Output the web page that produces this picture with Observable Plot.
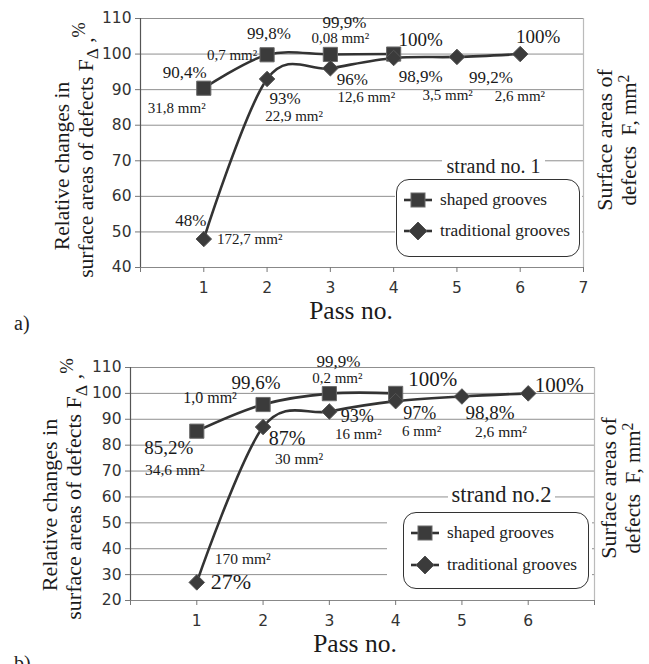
<!DOCTYPE html>
<html>
<head>
<meta charset="utf-8">
<script src="https://cdn.jsdelivr.net/npm/d3@7"></script>
<script src="https://cdn.jsdelivr.net/npm/@observablehq/plot@0.6"></script>
<style>
  body { margin: 0; background: #fff; }
  #root { position: relative; width: 649px; height: 664px; overflow: hidden; font-family: "Liberation Serif", serif; color: #222; }
  .panel { position: absolute; left: 0; width: 649px; }
  .panel svg { display: block; overflow: visible; }
  .legend { position: absolute; background: #fff; border: 1.5px solid #333; border-radius: 13px; box-sizing: border-box; }
  .legend .row { position: absolute; left: 6px; display: flex; align-items: center; white-space: nowrap; font-size: 17.3px; }
  .legend .row svg { margin-right: 7px; }
  .ltitle { position: absolute; background: #fff; text-align: center; white-space: nowrap; }
  .cover { position: absolute; background: #fff; }
  .tag { position: absolute; left: 14px; font-size: 20px; }
</style>
</head>
<body>
<div id="root"></div>
<script>
// ---------------- data ----------------
const passes = [1, 2, 3, 4, 5, 6];
const seriesNames = ["shaped grooves", "traditional grooves"];

// strand no. 1 (panel a)
const shapedA = [90.4, 99.8, 99.9, 100];
const shapedA_pct = ["90,4%", "99,8%", "99,9%", "100%"];
const shapedA_area = ["31,8 mm²", "0,7 mm²", "0,08 mm²", null];
const tradA = [48, 93, 96, 98.9, 99.2, 100];
const tradA_pct = ["48%", "93%", "96%", "98,9%", "99,2%", "100%"];
const tradA_area = ["172,7 mm²", "22,9 mm²", "12,6 mm²", "3,5 mm²", "2,6 mm²", null];

// strand no. 2 (panel b)
const shapedB = [85.4, 95.7, 99.9, 100];
const shapedB_pct = ["85,2%", "99,6%", "99,9%", "100%"];
const shapedB_area = ["34,6 mm²", "1,0 mm²", "0,2 mm²", null];
const tradB = [27, 87, 93, 97, 98.8, 100];
const tradB_pct = ["27%", "87%", "93%", "97%", "98,8%", "100%"];
const tradB_area = ["170 mm²", "30 mm²", "16 mm²", "6 mm²", "2,6 mm²", null];

const xTicks = [0, 1, 2, 3, 4, 5, 6, 7];
const xTickLabelsA = ["", "1", "2", "3", "4", "5", "6", "7"];
const xTickLabelsB = ["", "1", "2", "3", "4", "5", "6", ""];
const yTicksA = [40, 50, 60, 70, 80, 90, 100, 110];
const yTicksB = [20, 30, 40, 50, 60, 70, 80, 90, 100, 110];

// ---------------- label layout (offsets in px, font size) ----------------
const layoutA = {
  shapedPct:  [[-19, -16, 17], [2, -21, 17], [14, -32, 17], [27, -14, 19]],
  shapedArea: [[-27, 20, 15], [-35, 0, 15], [10, -16, 15], null],
  tradPct:    [[-13, -18, 17], [18, 20, 17], [22, 11, 17], [27, 19, 17], [34, 21, 17], [18, -17, 19]],
  tradArea:   [[46, 0, 15], [27, 37, 15], [36, 29, 15], [54, 37, 15], [63, 39, 15], null]
};
const layoutB = {
  shapedPct:  [[-28, 17, 19], [-7, -22, 19], [9, -32, 17], [37, -14, 21]],
  shapedArea: [[-22, 39, 15.5], [-53, -7, 16], [8, -15, 15], null],
  tradPct:    [[34, 0, 22], [24, 12, 20], [28, 5, 18], [24, 12, 18], [28, 16, 19], [31, -8, 21]],
  tradArea:   [[46, -23, 15.5], [36, 32, 15.5], [29, 23, 15], [26, 30, 15], [39, 36, 15.5], null]
};

const SERIF = "Liberation Serif";
const INK = "#333";
const MARK = "#3b3b3b";

function rows(vals) { return vals.map((v, i) => ({pass: passes[i], value: v})); }

function labelMarks(vals, texts, lay) {
  const marks = [];
  vals.forEach((v, i) => {
    if (!texts[i] || !lay[i]) return;
    const [dx, dy, fs] = lay[i];
    marks.push(Plot.text([{pass: passes[i], value: v, t: texts[i]}], {
      x: "pass", y: "value", text: "t", dx, dy,
      fontSize: fs, fontFamily: SERIF, fill: "#1a1a1a"
    }));
  });
  return marks;
}

function panel(cfg) {
  const s = rows(cfg.shaped), t = rows(cfg.trad);
  const L = cfg.layout;
  const plot = Plot.plot({
    width: 649, height: cfg.height,
    marginLeft: cfg.ml, marginRight: cfg.mr, marginTop: cfg.mt, marginBottom: cfg.mb,
    style: {fontFamily: "DejaVu Sans", fontSize: "15.5px", color: INK, background: "transparent"},
    x: {domain: [0, 7]},
    y: {domain: cfg.yDomain},
    marks: [
      Plot.ruleY(cfg.yTicks.slice(1), {stroke: "#8f8f8f", strokeWidth: 1}),
      Plot.ruleY([cfg.yDomain[0]], {stroke: "#888", strokeWidth: 1.2}),
      Plot.ruleX([0], {stroke: "#555", strokeWidth: 1.2}),
      Plot.ruleX([7], {stroke: "#bbb", strokeWidth: 1.2}),
      Plot.axisX({ticks: xTicks, tickFormat: (d) => cfg.xLabels[xTicks.indexOf(d)], tickSize: 5, tickPadding: 9,
        stroke: "#777", fill: INK, fontFamily: "DejaVu Sans", fontSize: 15.5, label: null}),
      Plot.axisY({ticks: cfg.yTicks, tickSize: 5, tickPadding: 4, stroke: "#777", fill: INK,
        fontFamily: "DejaVu Sans", fontSize: 15.5, label: null}),
      ...labelMarks(cfg.shaped, cfg.shapedPct, L.shapedPct),
      ...labelMarks(cfg.shaped, cfg.shapedArea, L.shapedArea),
      ...labelMarks(cfg.trad, cfg.tradPct, L.tradPct),
      ...labelMarks(cfg.trad, cfg.tradArea, L.tradArea),
      Plot.line(s, {x: "pass", y: "value", curve: "cardinal", stroke: INK, strokeWidth: 2.6}),
      Plot.line(t, {x: "pass", y: "value", curve: "cardinal", stroke: INK, strokeWidth: 2.6}),
      Plot.dot(s, {x: "pass", y: "value", symbol: "square", r: 8, fill: MARK, stroke: "#6a6a6a", strokeWidth: 1}),
      Plot.dot(t, {x: "pass", y: "value", symbol: "diamond2", r: 7, fill: MARK, stroke: "#555", strokeWidth: 1})
    ]
  });

  const svg = d3.select(plot);
  // left axis title (two lines)
  const lt = cfg.leftTitle;
  svg.append("text").attr("transform", `translate(${lt.x1},${lt.cy1}) rotate(-90)`)
    .attr("text-anchor", "middle").attr("font-family", SERIF).attr("font-size", lt.fs)
    .attr("fill", "#1a1a1a").text("Relative changes in");
  const l2 = svg.append("text").attr("transform", `translate(${lt.x2},${lt.cy2}) rotate(-90)`)
    .attr("text-anchor", "middle").attr("font-family", SERIF).attr("font-size", lt.fs)
    .attr("fill", "#1a1a1a");
  l2.append("tspan").text("surface areas of defects F");
  l2.append("tspan").attr("dy", lt.fs * 0.25).attr("font-size", lt.fs * 0.8).text("Δ");
  l2.append("tspan").attr("dy", -lt.fs * 0.25).text(" ,");
  l2.append("tspan").attr("dy", -lt.fs * 0.35).attr("font-size", lt.fs * 0.85).text("%");
  // right axis title
  const rt = cfg.rightTitle;
  svg.append("text").attr("transform", `translate(${rt.x1},${rt.cy}) rotate(-90)`)
    .attr("text-anchor", "middle").attr("font-family", SERIF).attr("font-size", rt.fs1)
    .attr("fill", "#1a1a1a").text("Surface areas of");
  const r2 = svg.append("text").attr("transform", `translate(${rt.x2},${rt.cy}) rotate(-90)`)
    .attr("text-anchor", "middle").attr("font-family", SERIF).attr("font-size", rt.fs2)
    .attr("fill", "#1a1a1a").attr("xml:space", "preserve");
  r2.append("tspan").text("defects  F, mm");
  r2.append("tspan").attr("dy", -rt.fs2 * 0.35).attr("font-size", rt.fs2 * 0.75).text("2");
  // x axis title
  svg.append("text").attr("x", cfg.xTitle.x).attr("y", cfg.xTitle.y).attr("text-anchor", "middle")
    .attr("font-family", SERIF).attr("font-size", 25.5).attr("fill", "#1a1a1a").text("Pass no.");

  const div = document.createElement("div");
  div.className = "panel";
  div.style.top = cfg.top + "px";
  div.style.height = cfg.height + "px";
  div.appendChild(plot);

  // legend
  const lg = cfg.legend;
  const cover = document.createElement("div");
  cover.className = "cover";
  Object.assign(cover.style, {left: lg.coverX + "px", top: lg.coverY + "px", width: lg.coverW + "px", height: lg.coverH + "px"});
  div.appendChild(cover);
  const title = document.createElement("div");
  title.className = "ltitle";
  Object.assign(title.style, {left: lg.tx + "px", top: lg.ty + "px", width: lg.tw + "px", fontSize: lg.tfs + "px", lineHeight: lg.tfs * 1.1 + "px"});
  title.textContent = lg.title;
  div.appendChild(title);
  const box = document.createElement("div");
  box.className = "legend";
  Object.assign(box.style, {left: lg.x + "px", top: lg.y + "px", width: lg.w + "px", height: lg.h + "px"});
  const symbols = [
    `<rect x="8" y="3" width="14" height="14" fill="${MARK}" stroke="#6a6a6a"/>`,
    `<path d="M15 1 L24 10 L15 19 L6 10 Z" fill="${MARK}" stroke="#555"/>`
  ];
  seriesNames.forEach((name, i) => {
    const r = document.createElement("div");
    r.className = "row";
    r.style.top = (lg.rowY[i] - 11) + "px";
    r.innerHTML = `<svg width="30" height="20"><line x1="1" y1="10" x2="29" y2="10" stroke="${INK}" stroke-width="2.6"/>${symbols[i]}</svg><span>${name}</span>`;
    box.appendChild(r);
  });
  div.appendChild(box);

  const tag = document.createElement("div");
  tag.className = "tag";
  tag.style.top = cfg.tagY + "px";
  tag.textContent = cfg.tag;
  div.appendChild(tag);
  return div;
}

const root = document.getElementById("root");
root.appendChild(panel({
  top: 0, height: 330, ml: 140, mr: 66, mt: 18, mb: 63,
  yDomain: [40, 110], yTicks: yTicksA, xLabels: xTickLabelsA,
  shaped: shapedA, shapedPct: shapedA_pct, shapedArea: shapedA_area,
  trad: tradA, tradPct: tradA_pct, tradArea: tradA_area, layout: layoutA,
  leftTitle: {x1: 69, cy1: 166, x2: 93, cy2: 150, fs: 21.5},
  rightTitle: {x1: 612, x2: 636, cy: 140, fs1: 22, fs2: 21},
  xTitle: {x: 351, y: 319},
  legend: {title: "strand no. 1", tx: 442, ty: 155, tw: 103, tfs: 20,
    coverX: 395, coverY: 176, coverW: 187, coverH: 84,
    x: 396, y: 179, w: 184, h: 78, rowY: [21, 52]},
  tag: "a)", tagY: 312
}));
root.appendChild(panel({
  top: 330, height: 334, ml: 130, mr: 55, mt: 37, mb: 64,
  yDomain: [20, 110], yTicks: yTicksB, xLabels: xTickLabelsB,
  shaped: shapedB, shapedPct: shapedB_pct, shapedArea: shapedB_area,
  trad: tradB, tradPct: tradB_pct, tradArea: tradB_area, layout: layoutB,
  leftTitle: {x1: 57, cy1: 175, x2: 81, cy2: 159, fs: 22},
  rightTitle: {x1: 616, x2: 640, cy: 158, fs1: 22, fs2: 21},
  xTitle: {x: 355, y: 322},
  legend: {title: "strand no.2", tx: 448, ty: 153, tw: 107, tfs: 22.5,
    coverX: 387, coverY: 178, coverW: 205, coverH: 91,
    x: 403, y: 182, w: 186, h: 77, rowY: [21, 53]},
  tag: "b)", tagY: 322
}));
</script>
</body>
</html>
